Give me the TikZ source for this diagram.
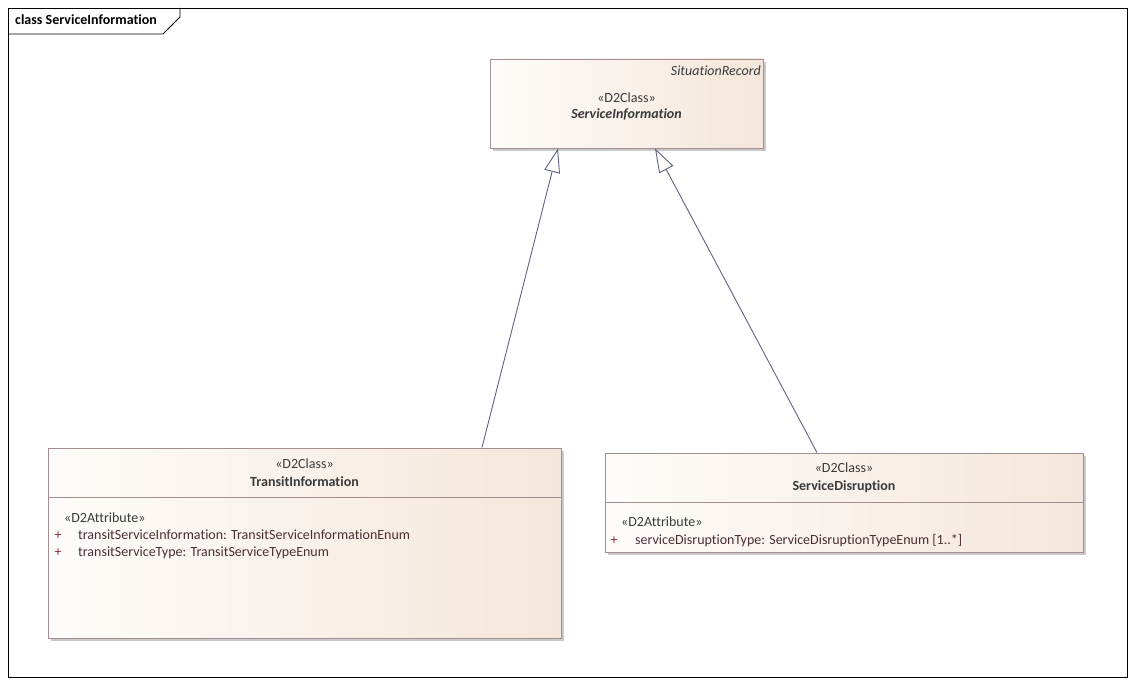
\documentclass[tikz,border=0pt]{standalone}
\usepackage{fontspec}
\setmainfont{Carlito}[Ligatures=NoCommon]
\usetikzlibrary{arrows.meta,shadows}

\definecolor{boxline}{HTML}{A38F8F}
\definecolor{boxleft}{HTML}{FEFCFA}
\definecolor{boxright}{HTML}{F4E6DA}
\definecolor{shadowgray}{HTML}{C9C9C9}
\definecolor{genline}{HTML}{5C6480}
\definecolor{txt}{HTML}{3A3A3A}
\definecolor{attr}{HTML}{4A2E34}
\definecolor{plus}{HTML}{8C2A3C}

\begin{document}
\begin{tikzpicture}[x=1pt,y=-1pt,font=\fontsize{14}{16}\selectfont,text=txt,
    classbox/.style={draw=boxline,line width=0.9pt,left color=boxleft,right color=boxright,
        drop shadow={shadow xshift=3pt,shadow yshift=-3pt,fill=shadowgray,opacity=1},inner sep=0pt},
    sep/.style={draw=boxline,line width=0.9pt},
    lbl/.style={inner sep=0pt,text height=10pt,text depth=3pt},
    gen/.style={draw=genline,line width=0.9pt,-{Triangle[length=24pt,width=16pt,fill=boxleft,line width=0.9pt]}}]
    \useasboundingbox (0,0) rectangle (1135,684);
    % frame
    \node[draw=black,line width=0.8pt,minimum width=1119pt,minimum height=669pt,anchor=north west,inner sep=0pt] (frame) at (8,8) {};
    \draw[line width=0.8pt] (8,34) -- (163,34) -- (180,17) -- (180,8);
    \node[lbl,anchor=west,font=\fontsize{14}{16}\selectfont\bfseries,text=black] (title) at (15,21) {class ServiceInformation};

    % classes
    \node[classbox,minimum width=273pt,minimum height=89pt] (sinfo) at (626.5,103.5) {};
    \node[classbox,minimum width=513pt,minimum height=190pt] (tinfo) at (304.5,543) {};
    \node[classbox,minimum width=478pt,minimum height=99pt] (sdisr) at (844,502.5) {};
    \draw[sep] (48,497) -- (561,497);
    \draw[sep] (605,502) -- (1083,502);

    \node[lbl,anchor=east,font=\fontsize{14}{16}\selectfont\itshape] (sinfo-parent) at (761,72) {SituationRecord};
    \node[lbl] (sinfo-st) at (626.5,99) {«D2Class»};
    \node[lbl,font=\fontsize{14}{16}\selectfont\bfseries\itshape] (sinfo-name) at (626.5,115) {ServiceInformation};

    \node[lbl] (tinfo-st) at (304.5,465) {«D2Class»};
    \node[lbl,font=\fontsize{14}{16}\selectfont\bfseries] (tinfo-name) at (304.5,483) {TransitInformation};
    \node[lbl,anchor=west] (tinfo-attr) at (64,519) {«D2Attribute»};
    \foreach \y/\a in {536/transitServiceInformation: TransitServiceInformationEnum,
                       553/transitServiceType: TransitServiceTypeEnum}{
        \node[lbl,text=plus] at (58,\y) {+};
        \node[lbl,anchor=west,text=attr] at (78,\y) {\a};
    }

    \node[lbl] (sdisr-st) at (844,469) {«D2Class»};
    \node[lbl,font=\fontsize{14}{16}\selectfont\bfseries] (sdisr-name) at (844,487) {ServiceDisruption};
    \node[lbl,anchor=west] (sdisr-attr) at (621,523) {«D2Attribute»};
    \node[lbl,text=plus] (sdisr-plus) at (614,541) {+};
    \node[lbl,anchor=west,text=attr] (sdisr-a1) at (635,541) {serviceDisruptionType: ServiceDisruptionTypeEnum [1..*]};

    % generalizations
    \draw[gen] ([xshift=177.5pt]tinfo.north) -- ([xshift=-68.5pt]sinfo.south);
    \draw[gen] ([xshift=-27pt]sdisr.north) -- ([xshift=28.5pt]sinfo.south);
\end{tikzpicture}
\end{document}
